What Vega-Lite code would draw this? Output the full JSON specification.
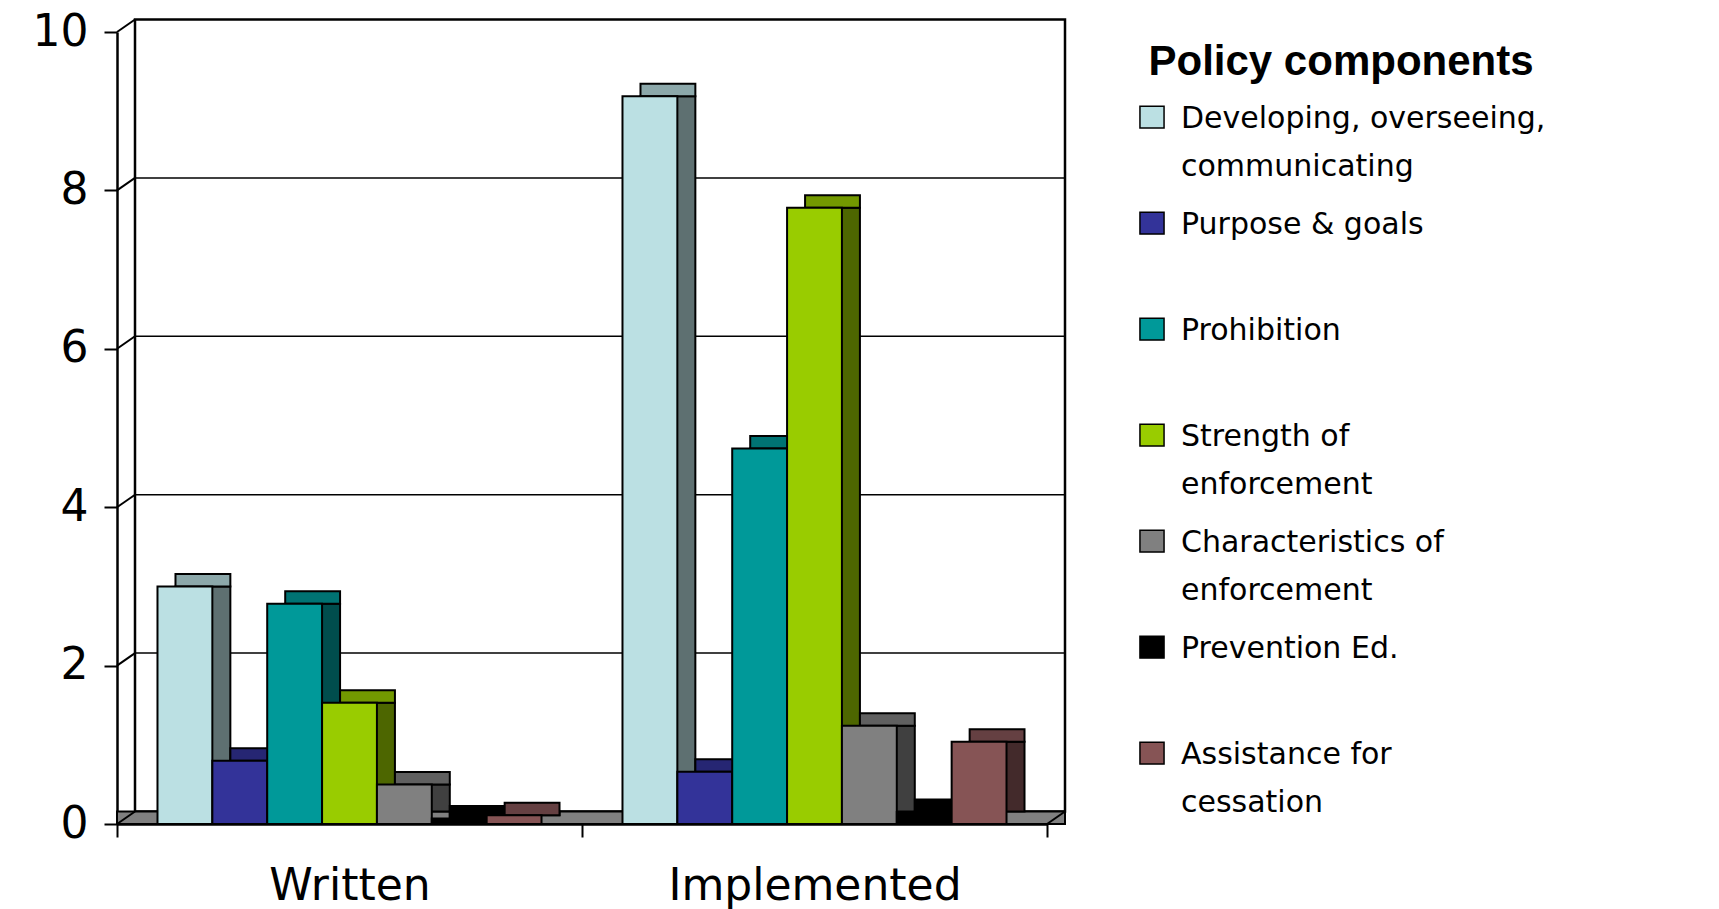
{
  "$schema": "https://vega.github.io/schema/vega-lite/v6.json",
  "width": 930,
  "height": 792,
  "autosize": {"type": "none"},
  "padding": {"left": 117, "top": 32, "right": 672, "bottom": 85},
  "background": "white",
  "config": {
    "view": {"stroke": null},
    "style": {"guide-label": {"lineHeight": 48}},
    "axis": {"grid": false, "tickColor": "black", "tickWidth": 2, "tickSize": 13,
             "domainColor": "black", "domainWidth": 2.5, "labelColor": "black",
             "labelFont": "DejaVu Sans", "labelFontSize": 44, "labelLimit": 600},
    "axisX": {"labelAngle": 0, "labelPadding": 27, "tickBand": "extent"},
    "axisY": {"labelPadding": 16}
  },
  "datasets": {
    "scores": [
      {"Stage": "Written", "Component": "Developing, overseeing, communicating", "Score": 3.0},
      {"Stage": "Written", "Component": "Purpose & goals", "Score": 0.8},
      {"Stage": "Written", "Component": "Prohibition", "Score": 2.78},
      {"Stage": "Written", "Component": "Strength of enforcement", "Score": 1.53},
      {"Stage": "Written", "Component": "Characteristics of enforcement", "Score": 0.5},
      {"Stage": "Written", "Component": "Prevention Ed.", "Score": 0.07},
      {"Stage": "Written", "Component": "Assistance for cessation", "Score": 0.11},
      {"Stage": "Implemented", "Component": "Developing, overseeing, communicating", "Score": 9.19},
      {"Stage": "Implemented", "Component": "Purpose & goals", "Score": 0.66},
      {"Stage": "Implemented", "Component": "Prohibition", "Score": 4.74},
      {"Stage": "Implemented", "Component": "Strength of enforcement", "Score": 7.78},
      {"Stage": "Implemented", "Component": "Characteristics of enforcement", "Score": 1.24},
      {"Stage": "Implemented", "Component": "Prevention Ed.", "Score": 0.15},
      {"Stage": "Implemented", "Component": "Assistance for cessation", "Score": 1.04}
    ],
    "levels": [{"Level": 0}, {"Level": 2}, {"Level": 4}, {"Level": 6}, {"Level": 8}, {"Level": 10}]
  },
  "resolve": {"scale": {"color": "independent", "xOffset": "independent"}},
  "layer": [
    {
      "description": "back wall of the 3-D box",
      "data": {"values": [{}]},
      "mark": {"type": "rect", "fill": "white", "stroke": "black", "strokeWidth": 2.5,
               "xOffset": 18, "x2Offset": 18, "yOffset": -12.5, "y2Offset": -12.5},
      "encoding": {
        "x": {"datum": "Written", "type": "nominal", "bandPosition": 0, "title": null},
        "x2": {"datum": "Implemented", "bandPosition": 1},
        "y": {"datum": 10, "type": "quantitative", "scale": {"domain": [0, 10], "nice": false}, "title": null},
        "y2": {"datum": 0}
      }
    },
    {
      "description": "gridlines on the back wall",
      "data": {"name": "levels"},
      "transform": [{"filter": "datum.Level > 0 && datum.Level < 10"}],
      "mark": {"type": "rule", "color": "black", "strokeWidth": 1.5,
               "xOffset": 18, "x2Offset": 18, "yOffset": -12.5},
      "encoding": {
        "x": {"datum": "Written", "type": "nominal", "bandPosition": 0, "title": null},
        "x2": {"datum": "Implemented", "bandPosition": 1},
        "y": {"field": "Level", "type": "quantitative", "scale": {"domain": [0, 10], "nice": false}, "title": null}
      }
    },
    {
      "description": "floor of the 3-D box",
      "data": {"values": [{}]},
      "mark": {"type": "rect", "fill": "#808080", "stroke": "black", "strokeWidth": 2,
               "x2Offset": 18, "y2Offset": -12.5},
      "encoding": {
        "x": {"datum": "Written", "type": "nominal", "bandPosition": 0, "title": null},
        "x2": {"datum": "Implemented", "bandPosition": 1},
        "y": {"datum": 0, "type": "quantitative", "scale": {"domain": [0, 10], "nice": false}, "title": null},
        "y2": {"datum": 0}
      }
    },
    {
      "description": "diagonal connectors from the front axis ticks to the back wall",
      "data": {"name": "levels"},
      "mark": {"type": "rule", "color": "black", "strokeWidth": 2, "x2Offset": 18, "y2Offset": -12.5},
      "encoding": {
        "x": {"datum": "Written", "type": "nominal", "bandPosition": 0, "title": null},
        "x2": {"datum": "Written", "bandPosition": 0},
        "y": {"field": "Level", "type": "quantitative", "scale": {"domain": [0, 10], "nice": false}, "title": null},
        "y2": {"field": "Level"}
      }
    },
    {
      "description": "right-hand edge of the floor",
      "data": {"values": [{}]},
      "mark": {"type": "rule", "color": "black", "strokeWidth": 2, "x2Offset": 18, "y2Offset": -12.5},
      "encoding": {
        "x": {"datum": "Implemented", "type": "nominal", "bandPosition": 1, "title": null},
        "x2": {"datum": "Implemented", "bandPosition": 1},
        "y": {"datum": 0, "type": "quantitative", "scale": {"domain": [0, 10], "nice": false}, "title": null},
        "y2": {"datum": 0}
      }
    },
    {
      "description": "side faces of the bars",
      "data": {"name": "scores"},
      "mark": {"type": "bar", "stroke": "black", "strokeWidth": 2, "y2Offset": -12.5},
      "encoding": {
        "x": {"field": "Stage", "type": "nominal", "sort": ["Written", "Implemented"],
              "scale": {"paddingInner": 0, "paddingOuter": 0}, "title": null},
        "xOffset": {"field": "Component", "type": "nominal",
                    "sort": ["Developing, overseeing, communicating", "Purpose & goals", "Prohibition", "Strength of enforcement", "Characteristics of enforcement", "Prevention Ed.", "Assistance for cessation"],
                    "scale": {"paddingInner": 0, "paddingOuter": 0.738, "range": [18, 483]}},
        "y": {"field": "Score", "type": "quantitative", "scale": {"domain": [0, 10], "nice": false}, "title": null},
        "y2": {"datum": 0},
        "color": {"field": "Component", "type": "nominal", "legend": null,
                  "scale": {"domain": ["Developing, overseeing, communicating", "Purpose & goals", "Prohibition", "Strength of enforcement", "Characteristics of enforcement", "Prevention Ed.", "Assistance for cessation"],
                            "range": ["#5E7071", "#1A1A4D", "#004D4D", "#4D6600", "#404040", "#000000", "#432A2B"]}}
      }
    },
    {
      "description": "top faces of the bars",
      "data": {"name": "scores"},
      "mark": {"type": "bar", "stroke": "black", "strokeWidth": 2, "yOffset": -12.5},
      "encoding": {
        "x": {"field": "Stage", "type": "nominal", "sort": ["Written", "Implemented"],
              "scale": {"paddingInner": 0, "paddingOuter": 0}, "title": null},
        "xOffset": {"field": "Component", "type": "nominal",
                    "sort": ["Developing, overseeing, communicating", "Purpose & goals", "Prohibition", "Strength of enforcement", "Characteristics of enforcement", "Prevention Ed.", "Assistance for cessation"],
                    "scale": {"paddingInner": 0, "paddingOuter": 0.738, "range": [18, 483]}},
        "y": {"field": "Score", "type": "quantitative", "scale": {"domain": [0, 10], "nice": false}, "title": null},
        "y2": {"field": "Score"},
        "color": {"field": "Component", "type": "nominal", "legend": null,
                  "scale": {"domain": ["Developing, overseeing, communicating", "Purpose & goals", "Prohibition", "Strength of enforcement", "Characteristics of enforcement", "Prevention Ed.", "Assistance for cessation"],
                            "range": ["#8CA8AA", "#262673", "#007373", "#739900", "#606060", "#000000", "#654042"]}}
      }
    },
    {
      "description": "front faces of the bars, with the axes and legend",
      "data": {"name": "scores"},
      "mark": {"type": "bar", "stroke": "black", "strokeWidth": 2},
      "encoding": {
        "x": {"field": "Stage", "type": "nominal", "sort": ["Written", "Implemented"],
              "scale": {"paddingInner": 0, "paddingOuter": 0}, "title": null},
        "xOffset": {"field": "Component", "type": "nominal",
                    "sort": ["Developing, overseeing, communicating", "Purpose & goals", "Prohibition", "Strength of enforcement", "Characteristics of enforcement", "Prevention Ed.", "Assistance for cessation"],
                    "scale": {"paddingInner": 0, "paddingOuter": 0.738, "range": [0, 465]}},
        "y": {"field": "Score", "type": "quantitative", "scale": {"domain": [0, 10], "nice": false}, "title": null,
              "axis": {"values": [0, 2, 4, 6, 8, 10], "format": "d"}},
        "color": {"field": "Component", "type": "nominal",
                  "scale": {"domain": ["Developing, overseeing, communicating", "Purpose & goals", "Prohibition", "Strength of enforcement", "Characteristics of enforcement", "Prevention Ed.", "Assistance for cessation"],
                            "range": ["#BBE0E3", "#333399", "#009999", "#99CC00", "#808080", "#000000", "#865455"]},
                  "legend": {"orient": "none", "legendX": 1020, "legendY": 10, "padding": 0,
                             "title": "Policy components", "titleFont": "Liberation Sans", "titleFontSize": 42,
                             "titleFontWeight": "bold", "titleColor": "black", "titleAnchor": "middle", "titlePadding": 5,
                             "titleLimit": 700,
                             "labelFont": "DejaVu Sans", "labelFontSize": 30, "labelColor": "black", "labelLimit": 700,
                             "labelBaseline": "top", "labelOffset": 14,
                             "labelExpr": "datum.label == 'Developing, overseeing, communicating' ? ['Developing, overseeing,', 'communicating'] : datum.label == 'Strength of enforcement' ? ['Strength of', 'enforcement'] : datum.label == 'Characteristics of enforcement' ? ['Characteristics of', 'enforcement'] : datum.label == 'Assistance for cessation' ? ['Assistance for', 'cessation'] : datum.label",
                             "symbolType": "M-1.1,0.2H1.1V2.2H-1.1Z", "symbolSize": 480, "symbolStrokeColor": "black",
                             "symbolStrokeWidth": 1.5, "symbolOpacity": 1, "columns": 1, "gridAlign": "all", "rowPadding": 13}}
      }
    }
  ]
}
